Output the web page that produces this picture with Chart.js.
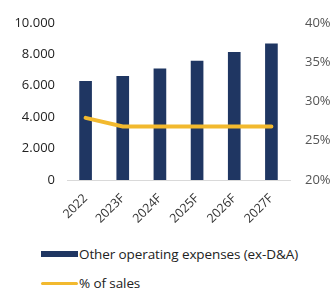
<!DOCTYPE html>
<html>
<head>
<meta charset="utf-8">
<script src="https://cdn.jsdelivr.net/npm/chart.js@4"></script>
<style>
    body { margin: 0; background: #fff; font-family: "Open Sans", sans-serif; }
    #wrap { position: relative; width: 333px; height: 291px; }
    #chartBox { position: absolute; left: 0; top: 0; width: 333px; height: 240px; }
    .legend { position: absolute; left: 41px; font-size: 13.5px; color: #222; display: flex; align-items: center; letter-spacing: -0.1px; }
    .legend .sw { width: 37px; margin-right: 1px; }
</style>
</head>
<body>
<div id="wrap">
    <div id="chartBox"><canvas id="opexChart"></canvas></div>
    <div class="legend" style="top:245px"><span class="sw" style="height:6px;background:#1f3662"></span>Other operating expenses (ex-D&amp;A)</div>
    <div class="legend" style="top:274px"><span class="sw" style="height:3px;background:#f2b92e;border-radius:2px"></span>% of sales</div>
</div>
<script>
const years = ['2022', '2023F', '2024F', '2025F', '2026F', '2027F'];
const otherOpex = [6280, 6590, 7070, 7570, 8120, 8660];
const pctOfSales = [27.9, 26.8, 26.8, 26.8, 26.8, 26.8];

const fmtThousands = v => v.toLocaleString('de-DE');

new Chart(document.getElementById('opexChart').getContext('2d'), {
    data: {
        labels: years,
        datasets: [
            {
                type: 'line',
                label: '% of sales',
                data: pctOfSales,
                yAxisID: 'y1',
                borderColor: '#f2b92e',
                borderWidth: 4,
                pointRadius: 0,
                tension: 0,
                borderCapStyle: 'round'
            },
            {
                type: 'bar',
                label: 'Other operating expenses (ex-D&A)',
                data: otherOpex,
                yAxisID: 'y',
                backgroundColor: '#1f3662',
                barThickness: 12
            }
        ]
    },
    options: {
        responsive: true,
        maintainAspectRatio: false,
        animation: false,
        layout: { padding: { top: 14, left: 0, right: 0, bottom: 0 } },
        plugins: { legend: { display: false }, tooltip: { enabled: false } },
        scales: {
            x: {
                afterFit: s => { s.height = 60; },
                grid: { display: false },
                border: { color: '#d9d9d9', width: 1 },
                ticks: { color: '#333', font: { family: 'Open Sans', size: 12.5 }, minRotation: 45, maxRotation: 45, padding: 3 }
            },
            y: {
                position: 'left',
                min: 0, max: 10000,
                afterFit: s => { s.width = 67; },
                grid: { display: false, drawTicks: false },
                border: { display: false },
                ticks: { stepSize: 2000, padding: 12, color: '#222', font: { family: 'Open Sans', size: 13 }, callback: fmtThousands }
            },
            y1: {
                position: 'right',
                min: 20, max: 40,
                afterFit: s => { s.width = 43; },
                grid: { display: false, drawTicks: false },
                border: { display: false },
                ticks: { stepSize: 5, padding: 15, color: '#555', font: { family: 'Open Sans', size: 13 }, callback: v => v + '%' }
            }
        }
    }
});
</script>
</body>
</html>
